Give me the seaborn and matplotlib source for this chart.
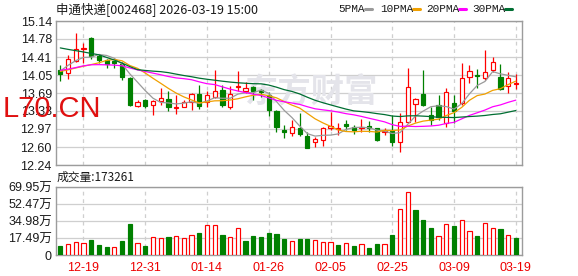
import numpy as np
import pandas as pd
import matplotlib
matplotlib.use("Agg")
import matplotlib.pyplot as plt
from matplotlib.lines import Line2D
import seaborn as sns

# ---------------- data ----------------
dates = ['12-16', '12-17', '12-18', '12-19', '12-22', '12-23', '12-24', '12-25', '12-26', '12-29',
         '12-30', '12-31', '01-05', '01-06', '01-07', '01-08', '01-09', '01-12', '01-13', '01-14',
         '01-15', '01-16', '01-19', '01-20', '01-21', '01-22', '01-23', '01-26', '01-27', '01-28',
         '01-29', '01-30', '02-02', '02-03', '02-04', '02-05', '02-06', '02-09', '02-10', '02-11',
         '02-12', '02-13', '02-24', '02-25', '02-26', '02-27', '03-02', '03-03', '03-04', '03-05',
         '03-06', '03-09', '03-10', '03-11', '03-12', '03-13', '03-16', '03-17', '03-18', '03-19']

open_ = [14.15, 14.09, 14.33, 14.57, 14.80, 14.44, 14.35, 14.33, 14.27, 13.99,
         13.42, 13.55, 13.45, 13.53, 13.57, 13.38, 13.41, 13.51, 13.67, 13.51,
         13.60, 13.75, 13.40, 13.81, 13.73, 13.82, 13.75, 13.65, 13.33, 12.95,
         12.88, 12.98, 12.83, 12.70, 12.74, 12.98, 12.96, 13.07, 13.01, 12.99,
         13.03, 12.98, 12.91, 12.93, 12.71, 13.11, 13.46, 13.67, 13.25, 13.44,
         13.08, 13.49, 13.49, 14.01, 14.06, 14.00, 14.16, 14.01, 13.83, 13.87]
close = [14.08, 14.37, 14.58, 14.60, 14.43, 14.35, 14.27, 14.29, 14.02, 13.45,
         13.51, 13.42, 13.53, 13.59, 13.40, 13.41, 13.50, 13.67, 13.42, 13.65,
         13.73, 13.45, 13.67, 13.84, 13.79, 13.73, 13.71, 13.35, 13.01, 12.90,
         13.01, 12.86, 12.58, 12.76, 12.98, 13.03, 12.98, 13.03, 12.95, 13.01,
         12.98, 12.74, 12.93, 12.71, 13.10, 13.81, 13.57, 13.44, 13.15, 13.20,
         13.72, 13.32, 13.99, 14.14, 14.04, 14.12, 14.31, 13.77, 13.99, 13.89]
high = [14.26, 14.46, 14.90, 14.70, 14.82, 14.47, 14.37, 14.34, 14.32, 14.01,
        13.54, 13.57, 13.55, 13.79, 13.73, 13.65, 13.55, 13.68, 13.85, 13.73,
        14.16, 13.85, 13.84, 14.14, 13.91, 13.84, 13.77, 13.72, 13.35, 13.05,
        13.15, 13.28, 12.91, 12.81, 13.01, 13.30, 13.08, 13.15, 13.05, 13.16,
        13.13, 12.99, 12.98, 13.25, 13.28, 14.20, 13.59, 14.16, 13.40, 13.65,
        13.79, 13.65, 14.29, 14.26, 14.18, 14.56, 14.41, 14.27, 14.12, 14.07]
low = [13.94, 13.98, 14.31, 14.30, 14.37, 14.30, 14.20, 14.20, 13.96, 13.42,
       13.40, 13.39, 13.25, 13.44, 13.32, 13.26, 13.40, 13.34, 13.36, 13.40,
       13.59, 13.40, 13.36, 13.73, 13.69, 13.55, 13.60, 13.22, 12.90, 12.78,
       12.83, 12.83, 12.58, 12.61, 12.63, 12.95, 12.85, 12.95, 12.86, 12.91,
       12.91, 12.72, 12.85, 12.63, 12.50, 13.08, 13.11, 13.42, 13.05, 13.15,
       13.01, 13.08, 13.45, 13.89, 13.79, 13.96, 14.12, 13.75, 13.69, 13.77]
# volume in 万 (10k)
volume = [9.2, 11.3, 13.3, 12.3, 15.4, 10.2, 8.2, 7.9, 14.3, 31.7,
          12.3, 9.2, 18.1, 17.1, 18.4, 19.1, 17.1, 20.1, 22.5, 30.4,
          30.4, 20.5, 18.1, 27.3, 14.3, 19.5, 18.4, 22.5, 21.5, 16.4,
          14.0, 16.4, 16.4, 15.0, 13.3, 13.3, 10.2, 11.9, 9.2, 10.9,
          7.2, 11.3, 10.9, 20.5, 47.8, 65.2, 46.1, 35.8, 27.6, 19.1,
          31.4, 29.7, 36.5, 24.2, 19.5, 33.4, 27.3, 26.6, 20.1, 17.33]
# closes of the trading days before the first shown candle (for the moving averages)
prior_closes = [15.25, 15.35, 15.40, 15.30, 15.20, 15.85, 15.90, 15.80, 15.60, 15.35,
                13.90, 13.95, 13.90, 14.00, 14.30, 14.35, 14.40, 14.30, 14.30, 14.30,
                14.05, 14.20, 14.25, 14.10, 13.98, 13.80, 14.10, 14.28, 14.40]

price_ticks = [15.14, 14.78, 14.41, 14.05, 13.69, 13.33, 12.97, 12.60, 12.24]
vol_ticks = [0, 17.49, 34.98, 52.47, 69.95]
vol_tick_labels = ['0', '17.49万', '34.98万', '52.47万', '69.95万']
date_ticks = ['12-19', '12-31', '01-14', '01-26', '02-05', '02-25', '03-09', '03-19']
ma_periods = [5, 10, 20, 30]
ma_names = ['5PMA', '10PMA', '20PMA', '30PMA']
title = '申通快递[002468] 2026-03-19 15:00'
last_volume = 173261

# ---------------- style ----------------
sns.set_theme(style='white')
plt.rcParams['font.family'] = ['Liberation Sans', 'Noto Sans CJK SC', 'DejaVu Sans']
RED = '#ff0000'
GREEN = '#008000'
MA_COLORS = ['#9a9a9a', '#f0a000', '#ff00ff', '#006e32']
GRID = '#cfcfcf'
SPINE = '#9c9c9c'
TXT = '#1a1a1a'

W, H = 578, 276
fig = plt.figure(figsize=(W / 100, H / 100), dpi=100)
fig.patch.set_facecolor('white')


def rect(l, t, r, b):
    return [l / W, 1 - b / H, (r - l) / W, (b - t) / H]


ax = fig.add_axes(rect(56, 21, 522, 165))
axv = fig.add_axes(rect(56, 187, 522, 255))

n = len(dates)
x = np.arange(n)
o = np.array(open_); c = np.array(close); h = np.array(high); l = np.array(low)
v = np.array(volume)
up = c >= o
prev_close = np.concatenate([[prior_closes[-1]], c[:-1]])
vol_up = c >= prev_close

# moving averages
all_close = pd.Series(prior_closes + close)
for p, col in zip(ma_periods, MA_COLORS):
    ma = all_close.rolling(p).mean().iloc[len(prior_closes):].to_numpy()
    sns.lineplot(x=x, y=ma, ax=ax, color=col, linewidth=0.9, zorder=6)

# candles
cand_col = [RED if u else GREEN for u in up]
ax.vlines(x, l, h, colors=cand_col, linewidth=0.9, zorder=4)
body_bottom = np.minimum(o, c)
body_h = np.maximum(np.abs(c - o), 0.006)
ax.bar(x, body_h, bottom=body_bottom, width=0.55,
       color=['white' if u else GREEN for u in up],
       edgecolor=cand_col, linewidth=0.85, zorder=5)

# volume bars
vcol = [RED if u else GREEN for u in vol_up]
axv.bar(x, v, width=0.55, color=['white' if u else GREEN for u in vol_up],
        edgecolor=vcol, linewidth=0.85, zorder=4)

# axes setup
tick_idx = [dates.index(d) for d in date_ticks]
for a in (ax, axv):
    a.set_xlim(-0.557, 59.8)
    a.set_xticks(tick_idx)
    a.set_axisbelow(True)
    a.grid(axis='x', color=GRID, linestyle=(0, (3, 3)), linewidth=0.9)
    a.grid(axis='y', color=GRID, linestyle='-', linewidth=0.9)
    for s in a.spines.values():
        s.set_color(SPINE)
        s.set_linewidth(1.0)
    a.tick_params(length=0)
    a.set_xlabel('')
    a.set_ylabel('')

ax.set_ylim(12.24, 15.14)
ax.set_yticks(price_ticks)
ax.set_yticklabels([f'{t:.2f}' for t in price_ticks], fontsize=9, color=TXT)
ax.tick_params(axis='y', pad=3)
ax.set_xticklabels([])

axv.set_ylim(0, 69.95)
axv.set_yticks(vol_ticks)
axv.set_yticklabels(vol_tick_labels, fontsize=9, color=TXT)
axv.tick_params(axis='y', pad=3)
axv.set_xticklabels(date_ticks, fontsize=9, color='#ee0000')
axv.tick_params(axis='x', pad=5)

# watermark
ax.text(0.547, 0.50, '东方财富', transform=ax.transAxes, ha='center', va='center',
        fontsize=24, color='#e4e4ea', family=['Noto Sans CJK SC'], fontweight='bold', zorder=1)


def fx(px):
    return px / W


def fy(py):
    return 1 - py / H


# header
fig.text(fx(56), fy(9), title, ha='left', va='center', fontsize=9,
         family=['Noto Sans CJK SC', 'DejaVu Sans'], color=TXT)

# legend
leg_text_x = [338, 380, 426, 472]
leg_mark_x = [365, 413, 459, 505]
for name, tx, mx, col in zip(ma_names, leg_text_x, leg_mark_x, MA_COLORS):
    fig.text(fx(tx), fy(9), name, ha='left', va='center', fontsize=8,
             family=['Liberation Mono'], color=TXT)
    fig.add_artist(Line2D([fx(mx), fx(mx + 7)], [fy(9), fy(9)], color=col,
                          linewidth=2.2, transform=fig.transFigure))

# volume label
fig.text(fx(57), fy(177), f'成交量:{last_volume}', ha='left', va='center', fontsize=8.5,
         family=['Noto Sans CJK SC', 'DejaVu Sans'], color=TXT)

# site watermark
fig.text(fx(3), fy(117), 'L70.CN', ha='left', va='baseline', fontsize=21,
         family=['Liberation Sans'], color='#e01010', zorder=10)

fig.savefig('out.png', dpi=100, facecolor='white')
